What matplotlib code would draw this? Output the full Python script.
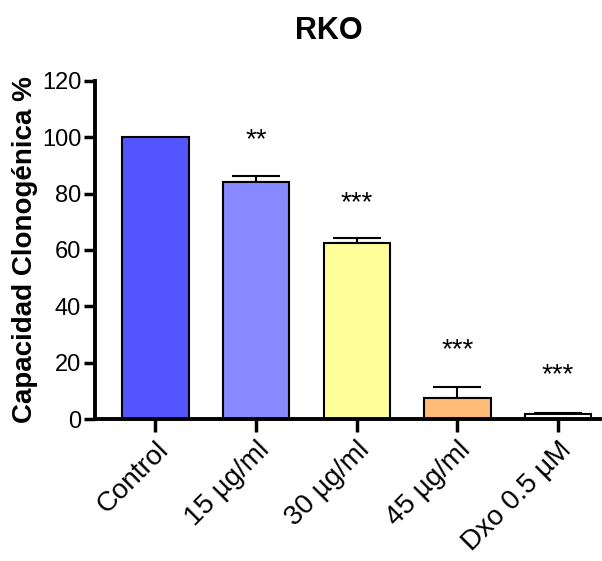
import matplotlib
matplotlib.use("Agg")
import matplotlib.pyplot as plt

categories = ["Control", "15 µg/ml", "30 µg/ml", "45 µg/ml", "Dxo 0.5 µM"]
values = [100, 84.2, 62.4, 7.4, 1.7]
errors = [0, 2.0, 1.9, 3.8, 0.5]
stars = ["", "**", "***", "***", "***"]
star_y = [0, 99.0, 76.6, 24.5, 15.6]
colors = ["#5555FF", "#8888FF", "#FFFF99", "#FFBB77", "#FFFFFF"]
yticks = [0, 20, 40, 60, 80, 100, 120]

plt.rcParams['font.family'] = ['Liberation Sans', 'DejaVu Sans']

fig = plt.figure(figsize=(6.02, 5.61), dpi=100)
ax = fig.add_axes([0.158, 0.253, 0.839, 0.603])

x = list(range(len(categories)))
ax.bar(x, values, width=0.66, color=colors, edgecolor="black", linewidth=1.5, zorder=2)
for xi, v, e in zip(x, values, errors):
    if e > 0:
        ax.errorbar(xi, v, yerr=[[0], [e]], fmt="none", ecolor="black",
                    elinewidth=1.5, capsize=17, capthick=1.5, zorder=1)
for xi, s, sy in zip(x, stars, star_y):
    if s:
        ax.text(xi, sy, s, ha="center", va="center", fontsize=20, color="black")

ax.set_xlim(-0.6, 4.42)
ax.set_ylim(0, 120)
ax.set_yticks(yticks)
ax.set_xticks(x)
ax.set_xticklabels(categories, rotation=45, ha="right", rotation_mode="anchor", fontsize=20)
ax.tick_params(axis="y", labelsize=17, width=2.5, length=8, direction="out", pad=2)
ax.tick_params(axis="x", width=2.5, length=9, direction="out", pad=4)
for side in ["top", "right"]:
    ax.spines[side].set_visible(False)
for side in ["left", "bottom"]:
    ax.spines[side].set_linewidth(2.8)
ax.set_ylabel("Capacidad Clonogénica %", fontsize=20, fontweight="bold", labelpad=3)
fig.text(0.546, 0.945, "RKO", ha="center", va="center", fontsize=22, fontweight="bold")

fig.savefig("out.png", dpi=100)
